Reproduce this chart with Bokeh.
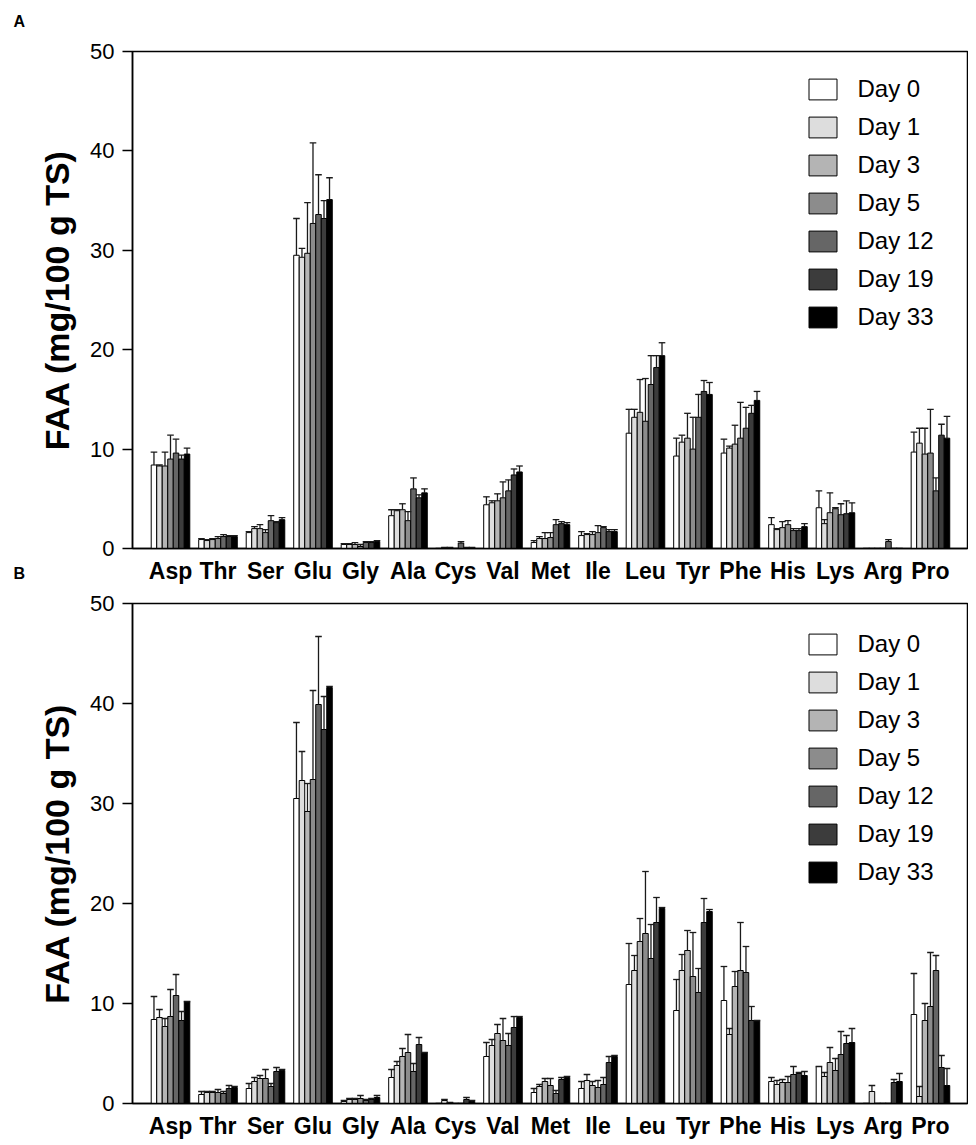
from bokeh.plotting import figure
from bokeh.models import Range1d, FixedTicker, Legend, LegendItem, ColumnDataSource
from bokeh.layouts import column
from bokeh.embed import file_html
from bokeh.resources import INLINE

amino_acids = ["Asp", "Thr", "Ser", "Glu", "Gly", "Ala", "Cys", "Val", "Met",
               "Ile", "Leu", "Tyr", "Phe", "His", "Lys", "Arg", "Pro"]
days = ["Day 0", "Day 1", "Day 3", "Day 5", "Day 12", "Day 19", "Day 33"]
day_colors = ["#ffffff", "#dddddd", "#b4b4b4", "#8c8c8c", "#666666", "#3c3c3c", "#000000"]
y_ticks = [0, 10, 20, 30, 40, 50]

# ---- Panel A: mean FAA (mg/100 g TS) per amino acid, one list per sampling day
a_day0 = [8.4, 0.9, 1.6, 29.5, 0.4, 3.3, 0.0, 4.4, 0.6, 1.3, 11.6, 9.3, 9.6, 2.4, 4.1, 0.0, 9.7]
a_day1 = [8.3, 0.8, 2.0, 29.3, 0.4, 3.8, 0.1, 4.6, 1.0, 1.4, 13.2, 10.7, 10.1, 1.9, 2.5, 0.0, 10.6]
a_day3 = [8.3, 0.9, 2.0, 29.7, 0.4, 3.9, 0.1, 4.8, 1.0, 1.4, 13.7, 11.1, 10.5, 2.1, 3.6, 0.0, 9.5]
a_day5 = [9.0, 1.0, 1.6, 32.7, 0.2, 2.8, 0.0, 5.1, 1.1, 1.6, 12.8, 10.0, 11.1, 2.4, 4.0, 0.0, 9.6]
a_day12 = [9.6, 1.2, 2.8, 33.6, 0.6, 6.0, 0.55, 5.8, 2.4, 2.1, 16.5, 13.2, 12.1, 1.8, 3.4, 0.7, 5.8]
a_day19 = [9.0, 1.2, 2.6, 33.2, 0.6, 5.1, 0.1, 7.4, 2.5, 1.7, 18.2, 15.8, 13.6, 1.8, 3.5, 0.0, 11.4]
a_day33 = [9.5, 1.2, 2.9, 35.1, 0.7, 5.6, 0.1, 7.7, 2.4, 1.7, 19.4, 15.5, 14.9, 2.2, 3.6, 0.0, 11.1]

# ---- Panel A: error (SD) per amino acid
a_err0 = [1.3, 0.1, 0.1, 3.7, 0.1, 0.6, 0.0, 0.8, 0.2, 0.4, 2.4, 1.8, 1.4, 0.7, 1.7, 0.0, 2.0]
a_err1 = [0.1, 0.1, 0.2, 0.9, 0.1, 0.1, 0.0, 0.2, 0.2, 0.1, 0.8, 0.7, 0.2, 0.1, 0.4, 0.0, 1.5]
a_err3 = [1.4, 0.1, 0.4, 5.1, 0.2, 0.6, 0.0, 0.7, 0.6, 0.3, 3.3, 2.5, 1.9, 0.6, 2.0, 0.0, 2.6]
a_err5 = [2.4, 0.2, 0.3, 8.1, 0.2, 0.9, 0.0, 1.6, 0.5, 0.7, 4.3, 3.2, 3.6, 0.4, 0.1, 0.0, 4.4]
a_err12 = [1.4, 0.2, 0.5, 4.0, 0.1, 1.1, 0.15, 1.1, 0.5, 0.1, 2.9, 2.3, 2.1, 0.2, 1.1, 0.2, 1.3]
a_err19 = [0.4, 0.1, 0.1, 1.8, 0.1, 0.3, 0.0, 0.6, 0.2, 0.2, 1.2, 1.1, 0.8, 0.2, 1.3, 0.0, 1.1]
a_err33 = [0.6, 0.1, 0.2, 2.2, 0.1, 0.4, 0.0, 0.6, 0.2, 0.2, 1.3, 1.2, 0.9, 0.3, 1.0, 0.0, 2.2]

# ---- Panel B: mean FAA (mg/100 g TS)
b_day0 = [8.4, 0.9, 1.5, 30.5, 0.2, 2.6, 0.0, 4.7, 1.1, 1.5, 11.9, 9.3, 10.3, 2.2, 3.7, 0.0, 8.9]
b_day1 = [8.6, 1.1, 2.2, 32.3, 0.4, 3.8, 0.3, 5.8, 1.7, 2.3, 13.3, 13.3, 6.9, 1.9, 2.7, 1.2, 0.7]
b_day3 = [7.7, 1.1, 2.5, 29.2, 0.4, 4.7, 0.1, 7.0, 2.2, 1.8, 16.2, 15.3, 11.7, 2.1, 4.1, 0.0, 8.3]
b_day5 = [8.7, 1.1, 2.5, 32.4, 0.5, 5.1, 0.0, 6.3, 1.8, 1.6, 17.0, 12.7, 13.3, 2.1, 3.3, 0.0, 9.7]
b_day12 = [10.8, 1.0, 1.7, 39.9, 0.3, 3.2, 0.0, 5.8, 1.0, 1.9, 14.5, 11.1, 13.1, 2.9, 4.9, 0.0, 13.3]
b_day19 = [8.3, 1.5, 3.2, 37.4, 0.4, 5.9, 0.4, 7.6, 2.4, 4.1, 18.1, 18.1, 8.3, 3.0, 6.0, 2.1, 3.6]
b_day33 = [10.2, 1.6, 3.3, 41.6, 0.6, 5.1, 0.2, 8.6, 2.6, 4.7, 19.5, 19.2, 8.3, 2.8, 6.1, 2.2, 1.8]

# ---- Panel B: error (SD)
b_err0 = [2.3, 0.3, 0.5, 7.6, 0.1, 0.8, 0.0, 1.4, 0.4, 0.7, 4.1, 3.1, 3.4, 0.4, 0.0, 0.0, 4.1]
b_err1 = [0.8, 0.1, 0.4, 2.9, 0.1, 0.4, 0.1, 0.6, 0.2, 0.6, 1.5, 1.6, 0.6, 0.4, 0.4, 0.6, 1.0]
b_err3 = [0.8, 0.1, 0.3, 2.8, 0.1, 0.8, 0.0, 0.9, 0.3, 0.4, 2.3, 2.0, 1.5, 0.3, 1.5, 0.0, 1.7]
b_err5 = [2.7, 0.3, 0.9, 8.9, 0.3, 1.8, 0.0, 2.2, 0.7, 0.7, 6.2, 4.4, 4.8, 0.6, 1.2, 0.0, 5.4]
b_err12 = [2.1, 0.2, 0.3, 6.8, 0.1, 0.8, 0.0, 1.2, 0.3, 0.7, 3.4, 2.4, 2.6, 0.8, 2.3, 0.0, 1.5]
b_err19 = [0.9, 0.3, 0.4, 3.3, 0.1, 0.7, 0.2, 1.1, 0.2, 0.6, 2.5, 2.4, 1.4, 0.1, 0.8, 0.3, 1.2]
b_err33 = [0.0, 0.1, 0.1, 0.1, 0.2, 0.0, 0.1, 0.1, 0.1, 0.1, 0.1, 0.2, 0.0, 0.4, 1.4, 0.8, 1.7]

panel_a_vals = [a_day0, a_day1, a_day3, a_day5, a_day12, a_day19, a_day33]
panel_a_errs = [a_err0, a_err1, a_err3, a_err5, a_err12, a_err19, a_err33]
panel_b_vals = [b_day0, b_day1, b_day3, b_day5, b_day12, b_day19, b_day33]
panel_b_errs = [b_err0, b_err1, b_err3, b_err5, b_err12, b_err19, b_err33]

FONT = "Liberation Sans"
BAR_W = 0.116


def make_panel(vals, errs, letter, height, border_top, border_bottom):
    p = figure(width=968, height=height, output_backend="svg", toolbar_location=None,
               x_range=Range1d(-0.8, 16.78), y_range=Range1d(0, 50),
               min_border_left=132, min_border_right=1,
               min_border_top=border_top, min_border_bottom=border_bottom)
    p.xgrid.visible = False
    p.ygrid.visible = False
    p.outline_line_color = "black"
    p.outline_line_width = 1.5
    p.background_fill_color = "white"
    p.border_fill_color = None

    # panel letter as a left-aligned title (blank second line lifts it up)
    p.title.text = letter + "\n "
    p.title.align = "left"
    p.title.vertical_align = "top"
    p.title.offset = -119
    p.title.standoff = 0
    p.title.text_line_height = 1.2
    p.title.text_font = FONT
    p.title.text_font_style = "bold"
    p.title.text_font_size = "16px"
    p.title.text_color = "black"

    items = []
    seg_x, seg_y0, seg_y1 = [], [], []
    cap_x0, cap_x1, cap_y = [], [], []
    for j, (day, col) in enumerate(zip(days, day_colors)):
        xs = [i + (j - 3) * BAR_W for i in range(len(amino_acids))]
        src = ColumnDataSource(dict(x=xs, top=vals[j], aa=amino_acids))
        r = p.vbar(x="x", top="top", bottom=0, width=BAR_W, source=src,
                   fill_color=col, line_color="black", line_width=1)
        items.append(LegendItem(label=day, renderers=[r]))
        for x, v, e in zip(xs, vals[j], errs[j]):
            seg_x.append(x)
            seg_y0.append(v)
            seg_y1.append(v + e)
            cap_x0.append(x - BAR_W * 0.6)
            cap_x1.append(x + BAR_W * 0.6)
            cap_y.append(v + e)
    p.segment(x0=seg_x, y0=seg_y0, x1=seg_x, y1=seg_y1, line_color="#1a1a1a", line_width=1.3)
    p.segment(x0=cap_x0, y0=cap_y, x1=cap_x1, y1=cap_y, line_color="#1a1a1a", line_width=1.3)

    # y axis
    p.yaxis.ticker = FixedTicker(ticks=y_ticks)
    p.yaxis.minor_tick_line_color = None
    p.yaxis.major_tick_out = 10
    p.yaxis.major_tick_in = 0
    p.yaxis.major_tick_line_width = 1.5
    p.yaxis.axis_line_width = 1.5
    p.yaxis.major_label_standoff = 8
    p.yaxis.major_label_text_font = FONT
    p.yaxis.major_label_text_font_size = "22px"
    p.yaxis.major_label_text_color = "black"
    p.yaxis.axis_label = "FAA (mg/100 g TS)"
    p.yaxis.axis_label_text_font = FONT
    p.yaxis.axis_label_text_font_style = "bold"
    p.yaxis.axis_label_text_font_size = "34px"
    p.yaxis.axis_label_text_color = "black"
    p.yaxis.axis_label_standoff = 11

    # x axis
    p.xaxis.ticker = FixedTicker(ticks=list(range(len(amino_acids))))
    p.xaxis.major_label_overrides = {i: aa for i, aa in enumerate(amino_acids)}
    p.xaxis.major_tick_out = 0
    p.xaxis.major_tick_in = 0
    p.xaxis.minor_tick_line_color = None
    p.xaxis.axis_line_width = 1.5
    p.xaxis.major_label_standoff = 9
    p.xaxis.major_label_text_font = FONT
    p.xaxis.major_label_text_font_style = "bold"
    p.xaxis.major_label_text_font_size = "23px"
    p.xaxis.major_label_text_color = "black"

    legend = Legend(items=items, location=(676 - 3.5, 217), orientation="vertical",
                    glyph_width=35, glyph_height=26, label_height=26,
                    label_standoff=18, spacing=10, padding=0, margin=0,
                    border_line_color=None, background_fill_alpha=0,
                    label_text_font=FONT, label_text_font_size="24px",
                    label_text_color="black")
    p.add_layout(legend)
    return p


pa = make_panel(panel_a_vals, panel_a_errs, "A", 586, 51, 35)
pb = make_panel(panel_b_vals, panel_b_errs, "B", 585, 47, 38)
pb.margin = (-30, 0, 0, 0)

layout = column(pa, pb, spacing=0)
open("out.html", "w").write(file_html(layout, INLINE))
